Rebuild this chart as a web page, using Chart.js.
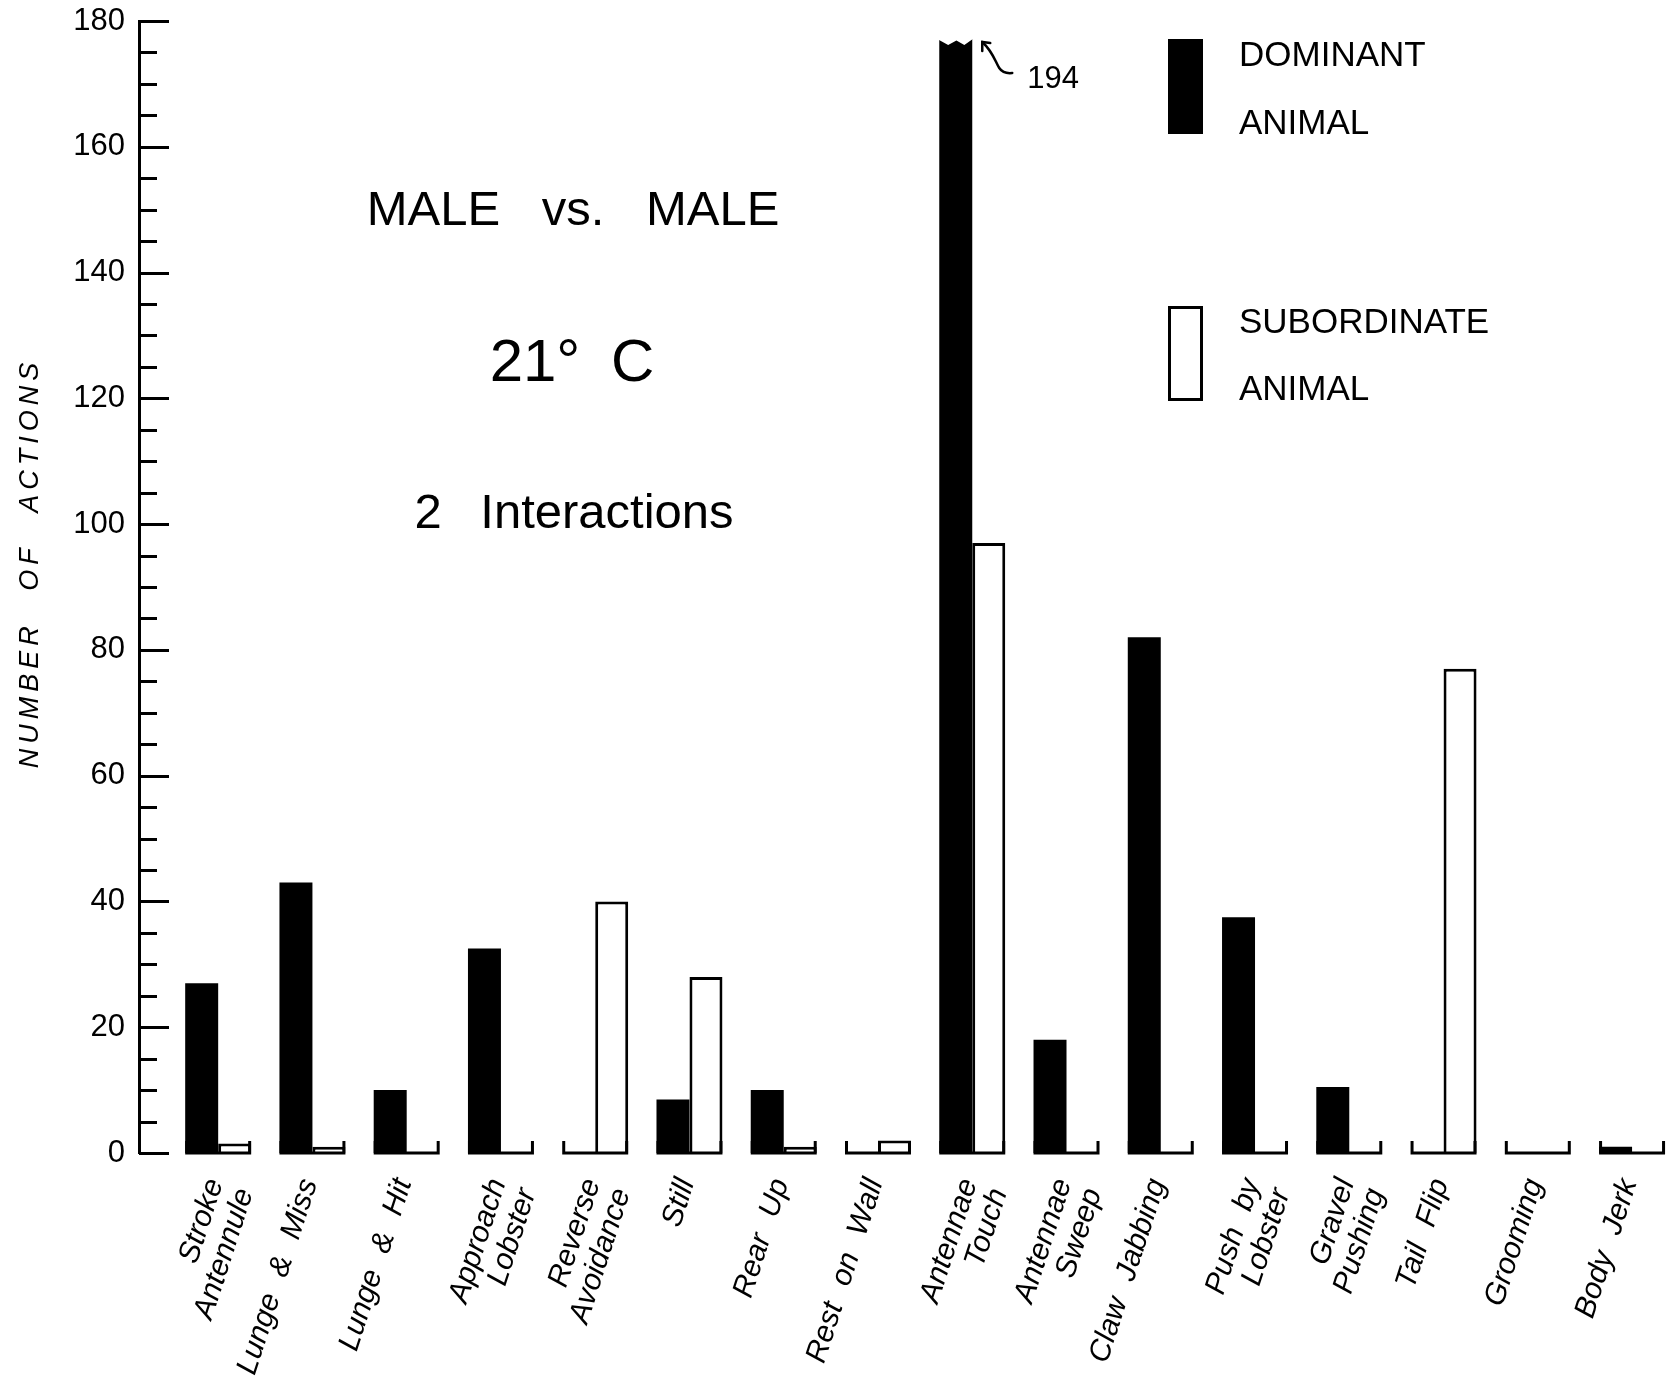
<!DOCTYPE html>
<html>
<head>
<meta charset="utf-8">
<title>Male vs. Male — number of actions</title>
<script src="https://cdn.jsdelivr.net/npm/chart.js@4/dist/chart.umd.min.js"></script>
<style>
  html, body { margin: 0; padding: 0; background: #fff; }
  #wrap { width: 1666px; height: 1384px; }
</style>
</head>
<body>
<div id="wrap"><canvas id="chart" width="1666" height="1384"></canvas></div>
<script>
// Behaviour categories (two-word names broken over two lines)
const categories = [
  ['Stroke', 'Antennule'], 'Lunge & Miss', 'Lunge & Hit', ['Approach', 'Lobster'],
  ['Reverse', 'Avoidance'], 'Still', 'Rear Up', 'Rest on Wall',
  ['Antennae', 'Touch'], ['Antennae', 'Sweep'], 'Claw Jabbing', ['Push by', 'Lobster'],
  ['Gravel', 'Pushing'], 'Tail Flip', 'Grooming', 'Body Jerk'
];

// Number of actions for each animal
const dominantCounts    = [27, 43, 10, 32.5, 0, 8.5, 10, 0, 194, 18, 82, 37.5, 10.5, 0, 0, 1];
const subordinateCounts = [1.5, 1, 0, 0, 40, 28, 1, 2, 97, 0, 0, 0, 0, 77, 0, 0];

const seriesNames = ['DOMINANT ANIMAL', 'SUBORDINATE ANIMAL'];
const yMajorTicks = [0, 20, 40, 60, 80, 100, 120, 140, 160, 180];
const headingLines = ['MALE vs. MALE', '21° C', '2 Interactions'];
const yAxisTitle = 'NUMBER OF ACTIONS';

const FONT = '"Liberation Sans", Arial, Helvetica, sans-serif';
const INK = '#000';
const BREAK_INSET = 18;   // broken bars stop this far below the top of the plot

// Wide word spacing used by the stencil-style lettering
const letteringPlugin = {
  id: 'lettering',
  beforeDraw(chart) { chart.ctx.wordSpacing = '11px'; }
};

// Inward tick marks on the value axis: long at labelled values, short otherwise
const innerTicksPlugin = {
  id: 'innerTicks',
  afterDatasetsDraw(chart) {
    const { ctx, chartArea } = chart;
    const y = chart.scales.y;
    ctx.save();
    ctx.strokeStyle = INK;
    ctx.lineWidth = 3;
    y.ticks.forEach(t => {
      const py = Math.round(y.getPixelForValue(t.value)) + 0.5;
      const len = yMajorTicks.includes(t.value) ? 30 : 18;
      ctx.beginPath();
      ctx.moveTo(chartArea.left, py);
      ctx.lineTo(chartArea.left + len, py);
      ctx.stroke();
    });
    ctx.restore();
  }
};

// Bracket-shaped baseline under each pair of bars
const baselinePlugin = {
  id: 'pairBaseline',
  afterDatasetsDraw(chart) {
    const { ctx } = chart;
    const dom = chart.getDatasetMeta(0).data;
    const sub = chart.getDatasetMeta(1).data;
    const y0 = chart.scales.y.getPixelForValue(0);
    ctx.save();
    ctx.strokeStyle = INK;
    ctx.lineWidth = 3;
    ctx.lineJoin = 'miter';
    dom.forEach((bar, i) => {
      const left = bar.x - bar.width / 2 + 1.5;
      const right = sub[i].x + sub[i].width / 2 - 1.5;
      ctx.beginPath();
      ctx.moveTo(left, y0 - 12);
      ctx.lineTo(left, y0);
      ctx.lineTo(right, y0);
      ctx.lineTo(right, y0 - 12);
      ctx.stroke();
    });
    ctx.restore();
  }
};

// Torn top and value note for bars running past the top of the scale
const brokenBarPlugin = {
  id: 'brokenBar',
  afterDatasetsDraw(chart) {
    const { ctx, chartArea } = chart;
    const yMax = chart.scales.y.max;
    const bars = chart.getDatasetMeta(0).data;
    dominantCounts.forEach((v, i) => {
      if (v <= yMax) return;
      const bar = bars[i];
      const w = bar.width;
      const left = bar.x - w / 2;
      const right = bar.x + w / 2;
      const top = chartArea.top + BREAK_INSET;
      ctx.save();
      ctx.fillStyle = '#fff';
      ctx.beginPath();
      ctx.moveTo(left - 2, top - 6);
      ctx.lineTo(left - 2, top);
      ctx.lineTo(left + w * 0.27, top + 6);
      ctx.lineTo(left + w * 0.52, top + 1.5);
      ctx.lineTo(left + w * 0.76, top + 6);
      ctx.lineTo(right + 2, top - 1);
      ctx.lineTo(right + 2, top - 6);
      ctx.closePath();
      ctx.fill();

      // curly arrow pointing at the break
      ctx.strokeStyle = INK;
      ctx.lineWidth = 2.5;
      ctx.lineCap = 'round';
      ctx.beginPath();
      ctx.moveTo(right + 10, top + 3);
      ctx.bezierCurveTo(right + 21, top + 13, right + 23, top + 23, right + 27, top + 29);
      ctx.quadraticCurveTo(right + 31, top + 35, right + 40, top + 34);
      ctx.stroke();
      ctx.beginPath();
      ctx.moveTo(right + 10, top + 12);
      ctx.lineTo(right + 10, top + 3);
      ctx.lineTo(right + 18, top + 4);
      ctx.stroke();

      ctx.fillStyle = INK;
      ctx.font = '31px ' + FONT;
      ctx.textAlign = 'left';
      ctx.textBaseline = 'alphabetic';
      ctx.wordSpacing = '0px';
      ctx.fillText(String(v), right + 55, top + 49);
      ctx.restore();
    });
  }
};

// Headings, key and rotated axis title
const annotationPlugin = {
  id: 'annotations',
  afterDraw(chart) {
    const { ctx } = chart;
    ctx.save();
    ctx.fillStyle = INK;
    ctx.textBaseline = 'alphabetic';

    ctx.textAlign = 'center';
    ctx.font = '49px ' + FONT;
    ctx.wordSpacing = '28px';
    ctx.fillText(headingLines[0], 573, 225);
    ctx.font = '60px ' + FONT;
    ctx.wordSpacing = '14px';
    ctx.fillText(headingLines[1], 572, 381);
    ctx.font = '49px ' + FONT;
    ctx.wordSpacing = '25px';
    ctx.fillText(headingLines[2], 574, 528);

    // key
    ctx.wordSpacing = '0px';
    ctx.fillRect(1168, 39, 35, 95);
    ctx.strokeStyle = INK;
    ctx.lineWidth = 3;
    ctx.strokeRect(1169.5, 307.5, 32, 92);
    ctx.textAlign = 'left';
    ctx.font = '35px ' + FONT;
    const domWords = seriesNames[0].split(' ');
    const subWords = seriesNames[1].split(' ');
    ctx.fillText(domWords[0], 1239, 66);
    ctx.fillText(domWords[1], 1239, 134);
    ctx.fillText(subWords[0], 1239, 333);
    ctx.fillText(subWords[1], 1239, 400);

    // value axis title
    ctx.translate(30, 563);
    ctx.rotate(-Math.PI / 2);
    ctx.font = 'italic 27px ' + FONT;
    ctx.letterSpacing = '5px';
    ctx.wordSpacing = '18px';
    ctx.textAlign = 'center';
    ctx.textBaseline = 'middle';
    ctx.fillText(yAxisTitle, 0, 0);
    ctx.restore();
  }
};

new Chart(document.getElementById('chart'), {
  type: 'bar',
  data: {
    labels: categories.map((_, i) => i),
    datasets: [
      {
        label: seriesNames[0],
        data: dominantCounts,
        backgroundColor: INK,
        borderWidth: 0,
        clip: { left: false, right: false, bottom: false, top: -BREAK_INSET }
      },
      {
        label: seriesNames[1],
        data: subordinateCounts,
        backgroundColor: '#fff',
        borderColor: INK,
        borderWidth: 3,
        borderSkipped: 'start'
      }
    ]
  },
  options: {
    responsive: false,
    animation: false,
    devicePixelRatio: 1,
    layout: { padding: { top: 21, right: 0, bottom: 0, left: 0 } },
    datasets: { bar: { categoryPercentage: 0.70, barPercentage: 1 } },
    plugins: {
      legend: { display: false },
      tooltip: { enabled: false },
      title: { display: false }
    },
    scales: {
      x: {
        type: 'linear',
        offset: false,
        min: -0.84,
        max: 15.36,
        bounds: 'data',
        grid: { display: false, offset: false },
        border: { display: false },
        afterBuildTicks: axis => { axis.ticks = categories.map((_, i) => ({ value: i })); },
        afterFit: axis => { axis.height = 231; axis.paddingLeft = 0; axis.paddingRight = 0; },
        ticks: {
          autoSkip: false,
          minRotation: 72,
          maxRotation: 72,
          padding: 14,
          labelOffset: -3,
          color: INK,
          font: { family: FONT, size: 30, style: 'italic', lineHeight: 1.05 },
          callback: v => categories[v]
        }
      },
      y: {
        min: 0,
        max: 180,
        grid: { display: false },
        border: { display: true, color: INK, width: 3 },
        afterFit: axis => { axis.width = 139; axis.paddingTop = 0; axis.paddingBottom = 0; },
        ticks: {
          stepSize: 5,
          autoSkip: false,
          padding: 6,
          color: INK,
          font: { family: FONT, size: 31 },
          callback: v => (yMajorTicks.includes(v) ? String(v) : '')
        }
      }
    }
  },
  plugins: [letteringPlugin, innerTicksPlugin, baselinePlugin, brokenBarPlugin, annotationPlugin]
});
</script>
</body>
</html>
